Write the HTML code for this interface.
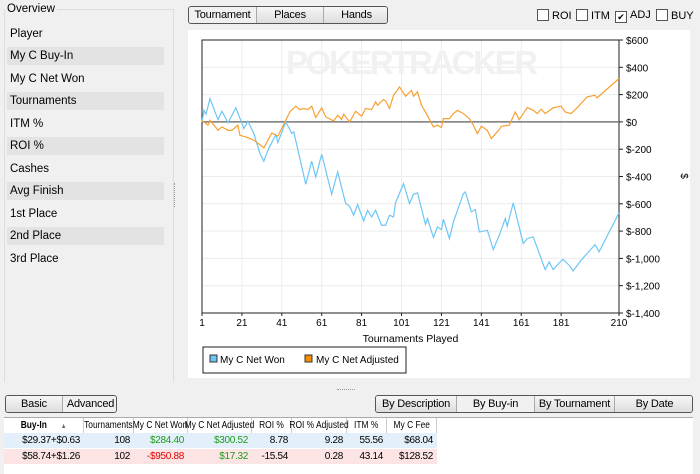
<!DOCTYPE html>
<html><head><meta charset="utf-8">
<style>
body{margin:0;width:700px;height:473px;background:#f0f0f0;font-family:"Liberation Sans",sans-serif;font-size:11px;color:#000;position:relative;overflow:hidden}
.abs{position:absolute}
.item{position:absolute;left:7px;width:157px;height:18px;line-height:18px;padding-left:3px;font-size:11.5px;box-sizing:border-box}
.stripe{background:#e3e3e3}
.btn{position:absolute;height:17px;line-height:17px;text-align:center;font-size:11px;background:linear-gradient(#f6f6f6,#dcdcdc);border-left:1px solid #aaa;box-sizing:border-box;white-space:nowrap;letter-spacing:-0.2px}
.grp{position:absolute;border:1px solid #555;border-radius:3px;overflow:hidden;box-sizing:border-box}
.cb{position:absolute;top:9px;font-size:11px;line-height:12px}
.cb span{display:inline-block;width:10px;height:10px;border:1px solid #555;background:#fff;vertical-align:-2px;margin-right:3px;font-size:9px;line-height:10px;text-align:center}
.cell{position:absolute;height:15px;line-height:15px;text-align:right;font-size:10px;box-sizing:border-box;padding-right:4px;white-space:nowrap;letter-spacing:-0.3px}
.hd{position:absolute;top:418px;height:15px;line-height:15px;text-align:center;font-size:10.5px;border-right:1px solid #ccc;box-sizing:border-box;white-space:nowrap;display:flex;justify-content:center}
.hd span{display:inline-block;transform:scaleX(0.8);transform-origin:center}
</style></head><body>
<div class="abs" style="left:4px;top:9px;width:168px;height:372px;border:1px solid #ddd;border-bottom:none"></div>
<div class="abs" style="left:5px;top:3px;background:#f0f0f0;padding:0 2px;font-size:11.5px">Overview</div>
<div class="item" style="top:25px">Player</div>
<div class="item stripe" style="top:47px">My C Buy-In</div>
<div class="item" style="top:70px">My C Net Won</div>
<div class="item stripe" style="top:92px">Tournaments</div>
<div class="item" style="top:115px">ITM %</div>
<div class="item stripe" style="top:137px">ROI %</div>
<div class="item" style="top:160px">Cashes</div>
<div class="item stripe" style="top:182px">Avg Finish</div>
<div class="item" style="top:205px">1st Place</div>
<div class="item stripe" style="top:227px">2nd Place</div>
<div class="item" style="top:250px">3rd Place</div>
<div class="abs" style="left:174px;top:183px;width:1px;height:24px;border-left:1px dotted #999"></div>

<div class="grp" style="left:188px;top:6px;width:200px;height:18px">
<div class="btn" style="left:0;width:67px;border:none;background:#f0f0f0">Tournament</div>
<div class="btn" style="left:67px;width:67px">Places</div>
<div class="btn" style="left:134px;width:66px">Hands</div>
</div>
<div class="cb" style="left:537px"><span></span>ROI</div>
<div class="cb" style="left:576px"><span></span>ITM</div>
<div class="cb" style="left:615px"><span>✔</span>ADJ</div>
<div class="cb" style="left:656px"><span></span>BUY</div>

<svg class="abs" style="left:188px;top:30px" width="502" height="348" id="chart">
<rect x="0" y="0" width="502" height="348" fill="#fff"/>
</svg>

<div class="abs" style="left:337px;top:389px;width:18px;border-top:1px dotted #999"></div>
<div class="grp" style="left:5px;top:395px;width:112px;height:18px">
<div class="btn" style="left:0;width:56px;border:none">Basic</div>
<div class="btn" style="left:56px;width:56px;background:#f0f0f0">Advanced</div>
</div>
<div class="grp" style="left:375px;top:395px;width:318px;height:18px">
<div class="btn" style="left:0;width:80px;border:none">By Description</div>
<div class="btn" style="left:80px;width:78px;background:#f0f0f0">By Buy-in</div>
<div class="btn" style="left:158px;width:80px">By Tournament</div>
<div class="btn" style="left:238px;width:80px">By Date</div>
</div>
<div class="abs" style="left:4px;top:417px;width:689px;height:56px;background:#fff;border-top:1px solid #aaa"></div>
<div id="tbl"></div>
<script>
// Table
const cols=[[4,84,'Buy-In'],[84,134,'Tournaments'],[134,188,'My C Net Won'],[188,252,'My C Net Adjusted'],[252,292,'ROI %'],[292,347,'ROI % Adjusted'],[347,387,'ITM %'],[387,437,'My C Fee']];
const rows=[['$29.37+$0.63','108','$284.40','$300.52','8.78','9.28','55.56','$68.04'],['$58.74+$1.26','102','-$950.88','$17.32','-15.54','0.28','43.14','$128.52']];
const tbl=document.getElementById('tbl');
cols.forEach((c,i)=>{const d=document.createElement('div');d.className='hd';d.style.left=c[0]+'px';d.style.width=(c[1]-c[0])+'px';
const s=document.createElement('span');s.textContent=c[2];d.appendChild(s);
if(i==0){s.style.fontWeight='bold';s.innerHTML='Buy-In&nbsp;&nbsp;&nbsp;&nbsp;&nbsp;&nbsp;<span style="font-weight:normal;font-size:7px;color:#666;transform:none">▲</span>';}


tbl.appendChild(d);});
rows.forEach((r,ri)=>{const bg=document.createElement('div');bg.className='abs';bg.style.cssText='left:4px;width:433px;height:15px;top:'+(433+ri*16)+'px;background:'+(ri?'#fde4e4':'#e3f0fb');


tbl.appendChild(bg);
r.forEach((v,ci)=>{const d=document.createElement('div');d.className='cell';d.style.left=cols[ci][0]+'px';d.style.width=(cols[ci][1]-cols[ci][0])+'px';d.style.top=(433+ri*16)+'px';d.textContent=v;
if(ci==2||ci==3)d.style.color=v[0]=='-'?'#e00000':'#1a9c1a';


tbl.appendChild(d);});});

// Chart data
const xTicks=[1,21,41,61,81,101,121,141,161,181,210];
const yTicks=[600,400,200,0,-200,-400,-600,-800,-1000,-1200,-1400];
const yTickLabels=['$600','$400','$200','$0','$-200','$-400','$-600','$-800','$-1,000','$-1,200','$-1,400'];
const netWonT=[1,2,3,5,9,11,14,18,22,24,27,30,32,34,38,39,43,46,47,53,56,58,61,66,69,73,75,77,79,82,84,86,88,91,93,95,97,98,102,105,107,109,113,114,117,119,121,122,125,127,132,133,136,138,140,144,147,150,153,154,157,162,164,167,173,175,177,180,182,185,187,191,198,200,210];
const netWonV=[0,85,56,171,17,78,-7,103,-49,5,-85,-232,-288,-208,-93,-151,0,-85,-73,-457,-288,-403,-237,-530,-366,-598,-618,-684,-606,-725,-647,-696,-647,-757,-757,-684,-696,-593,-452,-598,-530,-520,-750,-708,-847,-769,-789,-713,-855,-733,-525,-513,-659,-642,-806,-794,-935,-830,-708,-764,-593,-891,-855,-842,-1082,-1026,-1082,-1033,-1008,-1050,-1092,-1013,-899,-952,-667];
const netAdjT=[1,4,5,9,11,14,16,19,20,23,27,32,36,39,43,45,48,50,52,54,56,58,61,63,67,69,71,72,75,78,81,83,86,88,89,92,93,95,97,100,103,106,107,109,111,113,117,119,121,122,125,127,129,132,135,137,139,141,144,146,150,151,155,158,160,162,164,167,169,171,173,177,181,183,186,189,194,198,199,210];
const netAdjV=[12,-24,12,-61,-37,-61,-61,-24,-98,-110,-134,-190,-81,-105,12,73,115,90,98,90,115,32,103,37,7,49,17,56,0,78,42,98,90,147,122,164,154,98,195,256,188,232,188,220,122,73,-37,-24,-41,24,24,61,85,61,24,-24,-85,-32,-61,-122,-56,-32,-24,73,17,61,105,85,61,93,61,103,115,73,61,103,183,195,176,317];

const L=14,R=431,T=10,B=283;
const xs=t=>L+(t-1)/(210-1)*(R-L);
const ys=v=>T+(600-v)/2000*(B-T);
const svg=document.getElementById('chart');const NS='http://www.w3.org/2000/svg';
function mk(tag,attrs,name,parent){const e=document.createElementNS(NS,tag);for(const k in attrs)e.setAttribute(k,attrs[k]);


(parent||svg).appendChild(e);return e;}
xTicks.forEach(t=>mk('line',{x1:xs(t),x2:xs(t),y1:T,y2:B,stroke:'#ececec'},'x-gridline'));
yTicks.forEach(v=>mk('line',{x1:L,x2:R,y1:ys(v),y2:ys(v),stroke:'#ececec'},'y-gridline'));
const wm=mk('text',{x:98,y:44,'font-size':33,'font-weight':'bold',fill:'#f1f1f1','font-family':'Liberation Sans, sans-serif',textLength:252},'watermark');wm.textContent='POKERTRACKER';
mk('rect',{x:L,y:T,width:R-L,height:B-T,fill:'none',stroke:'#222'},'plot-frame');
mk('line',{x1:L,x2:R,y1:ys(0),y2:ys(0),stroke:'#777','stroke-width':1.5},'zero-line');
function line(T_,V,col,name){mk('polyline',{points:T_.map((t,i)=>xs(t)+','+ys(V[i])).join(' '),fill:'none',stroke:col,'stroke-width':1.2},name);}
line(netWonT,netWonV,'#6ec6f5','net-won-line');
line(netAdjT,netAdjV,'#f7a035','net-adjusted-line');
xTicks.forEach(t=>{mk('line',{x1:xs(t),x2:xs(t),y1:B,y2:B+3,stroke:'#222'},'x-tick');const e=mk('text',{x:xs(t),y:B+13,'text-anchor':'middle','font-size':10},'x-tick-label');e.textContent=t;});
yTicks.forEach((v,i)=>{mk('line',{x1:R,x2:R+4,y1:ys(v),y2:ys(v),stroke:'#222'},'y-tick');const e=mk('text',{x:R+7,y:ys(v)+4,'font-size':10},'y-tick-label');e.textContent=yTickLabels[i];});
const xt=mk('text',{x:(L+R)/2,y:B+29,'text-anchor':'middle','font-size':10.5},'x-axis-title');xt.textContent='Tournaments Played';
const yt=mk('text',{x:493,y:146,'text-anchor':'middle','font-size':10,transform:'rotate(90 493 146)'},'y-axis-title');yt.textContent='$';
mk('rect',{x:15,y:317,width:203,height:26,fill:'#fff',stroke:'#222'},'legend');
mk('rect',{x:22,y:325,width:7,height:7,fill:'#6ec6f5',stroke:'#333'},'legend-swatch-net-won');
const l1=mk('text',{x:32,y:333,'font-size':10},'legend-label-net-won');l1.textContent='My C Net Won';
mk('rect',{x:117,y:325,width:7,height:7,fill:'#f78f00',stroke:'#333'},'legend-swatch-net-adjusted');
const l2=mk('text',{x:128,y:333,'font-size':10},'legend-label-net-adjusted');l2.textContent='My C Net Adjusted';
</script>
</body></html>
